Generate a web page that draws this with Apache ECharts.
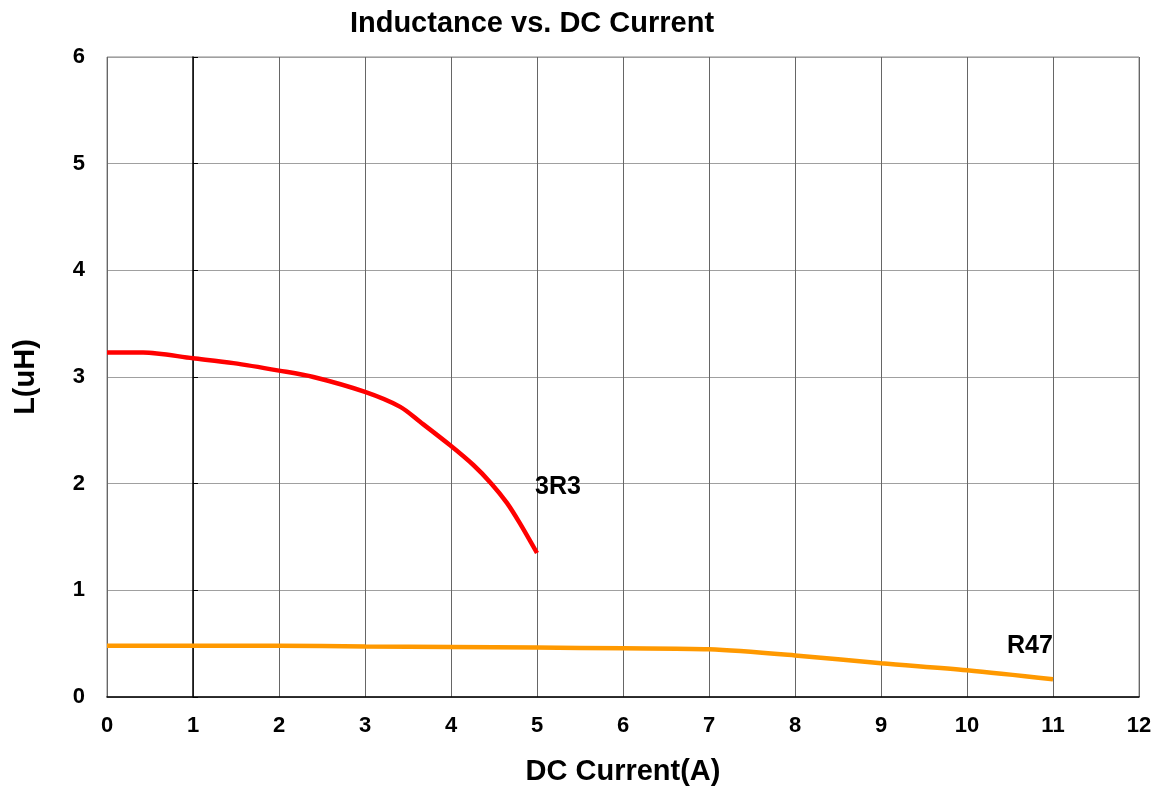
<!DOCTYPE html>
<html><head><meta charset="utf-8">
<script src="https://cdn.jsdelivr.net/npm/echarts@6/dist/echarts.min.js"></script>
<style>html,body{margin:0;padding:0;background:#fff}#c{width:1159px;height:791px}</style>
</head><body><div id="c"></div>
<script>
const titleText = 'Inductance vs. DC Current';
const xName = 'DC Current(A)';
const yName = 'L(uH)';
const s3r3 = [[0,3.23],[0.42,3.23],[1,3.175],[1.47,3.13],[2,3.06],[2.4,3.0],[3,2.86],[3.41,2.72],[3.64,2.58],[3.99,2.36],[4.26,2.175],[4.47,2.0],[4.65,1.82],[4.8,1.63],[5,1.35]];
const sR47 = [[0,0.48],[1,0.48],[2,0.48],[3,0.473],[4,0.468],[5,0.463],[6,0.457],[7,0.447],[8,0.39],[9,0.316],[10,0.25],[11,0.166]];
const font = 'Liberation Sans, Arial, sans-serif';
const chart = echarts.init(document.getElementById('c'));
chart.setOption({
  animation:false,
  title:{text:titleText,left:527,top:4,textAlign:'center',textStyle:{fontFamily:font,fontWeight:'bold',fontSize:29,color:'#000'}},
  grid:{left:107,right:20,top:57,bottom:94,show:true,borderColor:'#888',borderWidth:1,outerBoundsMode:'none',containLabel:false},
  xAxis:{type:'value',min:0,max:12,interval:1,name:xName,nameLocation:'middle',nameGap:60,
    nameTextStyle:{fontFamily:font,fontWeight:'bold',fontSize:29,color:'#000'},
    axisLine:{onZero:false,lineStyle:{color:'#000',width:1.5}},axisTick:{show:false},
    axisLabel:{fontFamily:font,fontWeight:'bold',fontSize:22,color:'#000',margin:18},
    splitLine:{show:true,lineStyle:{color:'#666',width:1}}},
  yAxis:[{type:'value',min:0,max:6,interval:1,name:yName,nameLocation:'middle',nameGap:67,
    nameTextStyle:{fontFamily:font,fontWeight:'bold',fontSize:29,color:'#000'},
    axisLine:{show:false},axisTick:{show:false},
    axisLabel:{fontFamily:font,fontWeight:'bold',fontSize:22,color:'#000',margin:22},
    splitLine:{show:true,lineStyle:{color:'#a0a0a0',width:1}}},
   {type:'value',min:0,max:6,interval:1,position:'left',offset:-86,
    axisLine:{show:true,lineStyle:{color:'#000',width:1.5}},
    axisTick:{show:true,inside:true,length:5,lineStyle:{color:'#000'}},
    axisLabel:{show:false},splitLine:{show:false}}],
  series:[
    {type:'line',data:s3r3,smooth:0.3,showSymbol:false,lineStyle:{color:'#ff0000',width:4.5},
     endLabel:{show:true,formatter:'3R3',distance:0,offset:[21,-66],align:'center',verticalAlign:'middle',
       fontFamily:font,fontWeight:'bold',fontSize:25,color:'#000'}},
    {type:'line',data:sR47,smooth:0.3,showSymbol:false,lineStyle:{color:'#ff9900',width:4.5},
     endLabel:{show:true,formatter:'R47',distance:0,offset:[-23,-33],align:'center',verticalAlign:'middle',
       fontFamily:font,fontWeight:'bold',fontSize:25,color:'#000'}}
  ]
});
</script></body></html>
